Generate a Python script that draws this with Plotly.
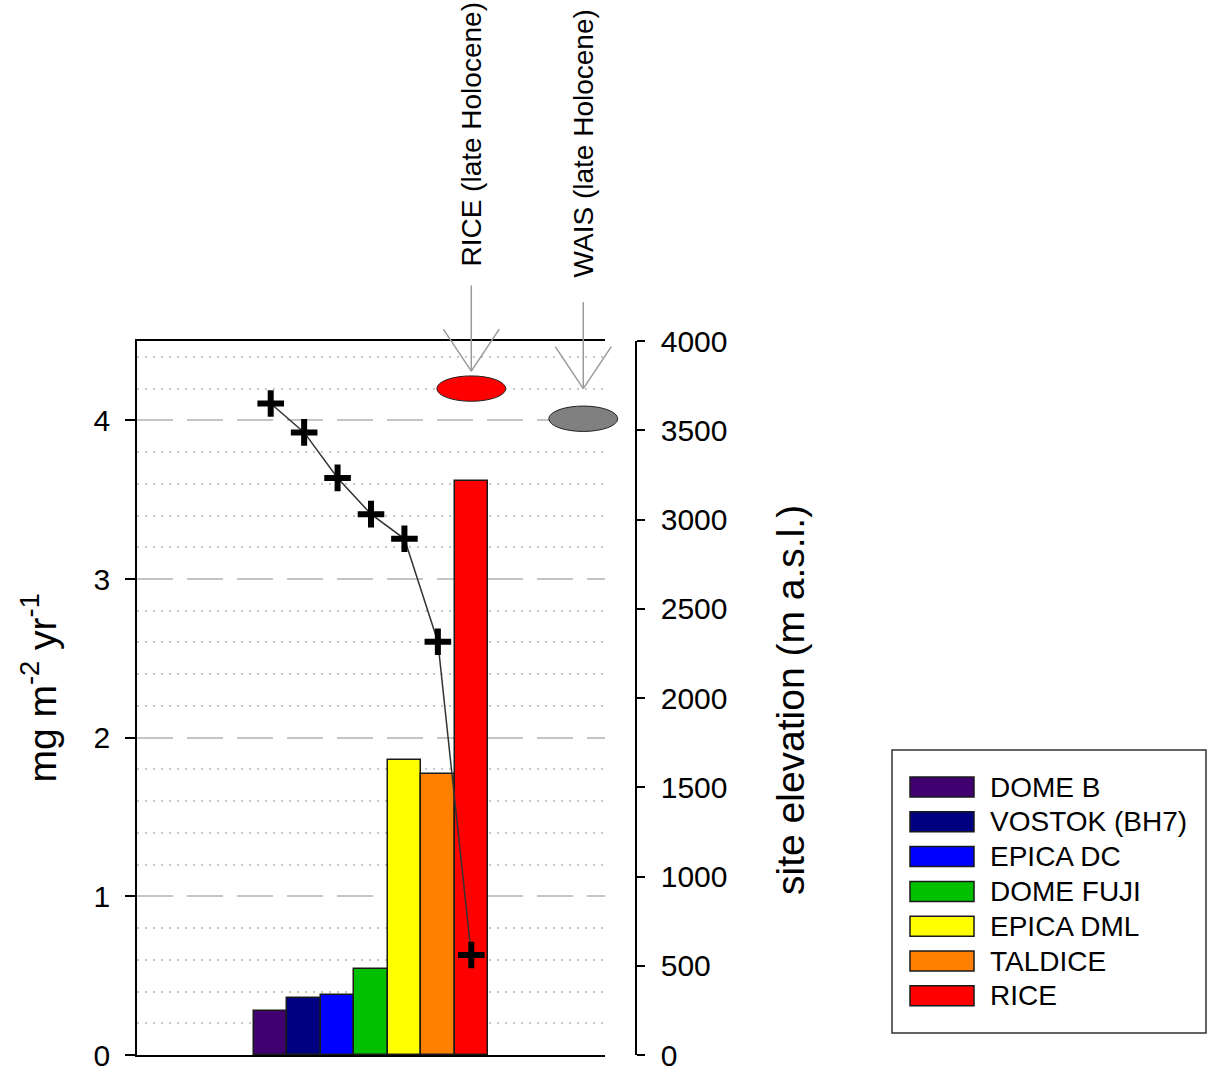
import plotly.graph_objects as go

# ---------------- data ----------------
sites = ["DOME B", "VOSTOK (BH7)", "EPICA DC", "DOME FUJI", "EPICA DML", "TALDICE", "RICE"]
flux = [0.28, 0.36, 0.38, 0.54, 1.86, 1.77, 3.62]            # mg m-2 yr-1
elevation = [3650, 3488, 3233, 3030, 2892, 2315, 560]        # m a.s.l.
bar_colors = ["#400070", "#000080", "#0000FF", "#00C000", "#FFFF00", "#FF8000", "#FF0000"]

lh_labels = ["RICE (late Holocene)", "WAIS (late Holocene)"]
lh_flux = [4.2, 4.01]
lh_xpos = [6.0, 9.35]          # position on the category axis
lh_colors = ["#FF0000", "#808080"]

left_ticks = [0, 1, 2, 3, 4]
right_ticks = [0, 500, 1000, 1500, 2000, 2500, 3000, 3500, 4000]

# ---------------- layout geometry ----------------
W, H = 1208, 1068
PLOT_L, PLOT_R, AX2_X, PLOT_T, PLOT_B = 137, 605, 636, 341, 1055
PW = AX2_X - PLOT_L
PH = PLOT_B - PLOT_T
XR = [-4, 10]
YR = [0, 4.5]
Y2R = [0, 4000]
FONT = "Liberation Sans, Arial, sans-serif"

minor_vals = [round(k * 0.2, 1) for k in range(1, 23) if k % 5 != 0]


def xpx(px):
    return (px - PLOT_L) / PW


def ypx(py):
    return (PLOT_B - py) / PH


def xd(x):
    return (x - XR[0]) / (XR[1] - XR[0]) * (PLOT_R - PLOT_L) / PW


def yd(y):
    return (y - YR[0]) / (YR[1] - YR[0])


fig = go.Figure()

fig.add_trace(go.Bar(
    x=sites, y=flux, marker=dict(color=bar_colors, line=dict(color="#1a1a1a", width=1.5)),
    width=1, showlegend=False, xaxis="x", yaxis="y"))

fig.add_trace(go.Scatter(
    x=sites, y=elevation, mode="lines+markers", yaxis="y2", xaxis="x",
    line=dict(color="#333333", width=1.5),
    marker=dict(symbol="cross-thin", size=19, line=dict(color="black", width=6)),
    cliponaxis=False, showlegend=False))

shapes = []
annotations = []

# late Holocene ellipses, arrows and labels
arrow_tip = [4.31, 4.20]
arrow_top = [4.85, 4.745]
label_bottom = [4.955, 4.89]
for i in range(2):
    cx, cy = xd(lh_xpos[i]), yd(lh_flux[i])
    hw, hh = 1.03 / (XR[1] - XR[0]) * (PLOT_R - PLOT_L) / PW, 0.08 / (YR[1] - YR[0])
    shapes.append(dict(type="circle", xref="paper", yref="paper",
                       x0=cx - hw, x1=cx + hw, y0=cy - hh, y1=cy + hh,
                       fillcolor=lh_colors[i], line=dict(color="#222222", width=1), layer="above"))
    tx, ty, top = xd(lh_xpos[i]), yd(arrow_tip[i]), yd(arrow_top[i])
    acol = "#9a9a9a"
    shapes.append(dict(type="line", xref="paper", yref="paper", x0=tx, x1=tx, y0=ty, y1=top,
                       line=dict(color=acol, width=1.5)))
    for s in (-1, 1):
        shapes.append(dict(type="line", xref="paper", yref="paper", x0=tx, y0=ty,
                           x1=tx + s * 28 / PW, y1=ty + 42 / PH, line=dict(color=acol, width=1.5)))
    annotations.append(dict(text=lh_labels[i], xref="paper", yref="paper", x=tx,
                            y=yd(label_bottom[i]), xanchor="center", yanchor="bottom",
                            textangle=-90, showarrow=False,
                            font=dict(family=FONT, size=28, color="black")))

# axis titles
annotations.append(dict(text="mg m<sup>-2</sup> yr<sup>-1</sup>", xref="paper", yref="paper",
                        x=xpx(65), y=ypx(688), xanchor="right", yanchor="middle",
                        textangle=-90, showarrow=False, font=dict(family=FONT, size=39, color="black")))
annotations.append(dict(text="site elevation (m a.s.l.)", xref="paper", yref="paper",
                        x=xpx(790), y=ypx(700), xanchor="center", yanchor="middle",
                        textangle=-90, showarrow=False, font=dict(family=FONT, size=39, color="black")))

# manual legend
shapes.append(dict(type="rect", xref="paper", yref="paper", x0=xpx(892), x1=xpx(1206),
                   y0=ypx(1033), y1=ypx(750), line=dict(color="#333333", width=1.5),
                   fillcolor="white", layer="above"))
row0, step = 787, 34.8
for i, (name, col) in enumerate(zip(sites, bar_colors)):
    c = row0 + i * step
    shapes.append(dict(type="rect", xref="paper", yref="paper", x0=xpx(910), x1=xpx(974),
                       y0=ypx(c + 10), y1=ypx(c - 10), fillcolor=col,
                       line=dict(color="#1a1a1a", width=1.5), layer="above"))
    annotations.append(dict(text=name, xref="paper", yref="paper", x=xpx(988), y=ypx(c),
                            xanchor="left", yanchor="middle", showarrow=False,
                            font=dict(family=FONT, size=28, color="black")))

fig.update_layout(
    width=W, height=H,
    margin=dict(l=PLOT_L, r=W - AX2_X, t=PLOT_T, b=H - PLOT_B, pad=0, autoexpand=False),
    paper_bgcolor="white", plot_bgcolor="white",
    bargap=0, showlegend=False,
    font=dict(family=FONT, size=30, color="black"),
    xaxis=dict(domain=[0, (PLOT_R - PLOT_L) / PW], range=XR, type="category",
               showticklabels=False, ticks="", showgrid=False, zeroline=False, automargin=False,
               showline=True, mirror=True, linecolor="black", linewidth=1.5),
    yaxis=dict(range=YR, tickvals=left_ticks, ticks="outside", ticklen=10, tickwidth=1.5,
               tickcolor="black", showline=True, linecolor="black", linewidth=1.5,
               zeroline=False, showgrid=True, gridcolor="#c4c4c4", gridwidth=1.5,
               griddash="36px,14px", ticklabelstandoff=9, ticklabeloverflow="allow",
               automargin=False,
               tickfont=dict(family=FONT, size=30, color="black"),
               minor=dict(tickmode="array", tickvals=minor_vals, showgrid=True,
                          gridcolor="#c8c8c8", gridwidth=1.5, griddash="2px,6px", ticks="")),
    yaxis2=dict(range=Y2R, tickvals=right_ticks, overlaying="y", side="right", anchor="free",
                position=1.0, ticks="outside", ticklen=8, tickwidth=1.5, tickcolor="black",
                showline=True, linecolor="black", linewidth=1.5, showgrid=False, zeroline=False,
                ticklabelstandoff=10, ticklabeloverflow="allow", automargin=False,
                tickfont=dict(family=FONT, size=30, color="black")),
    shapes=shapes, annotations=annotations,
)

fig.write_html("out.html")
